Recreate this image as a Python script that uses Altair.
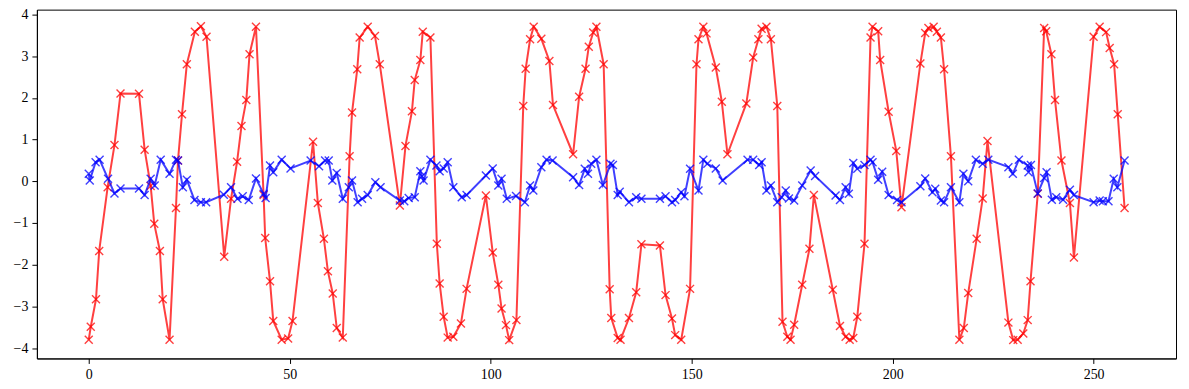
import altair as alt
import pandas as pd

red_x = [0, 0.5, 1.8, 2.6, 4.7, 6.4, 7.9, 12.5, 13.9, 15.4, 16.3, 17.7, 18.4, 20.1, 21.7, 22.2, 23.2, 24.4,
         26.4, 27.9, 29.3, 33.7, 35.4, 36.9, 38.0, 39.2, 40.0, 41.6, 43.5, 43.9, 45.1, 45.9, 48.0, 49.6, 50.7,
         55.8, 57.0, 58.5, 59.5, 60.7, 61.7, 63.2, 64.9, 65.5, 66.8, 67.4, 69.4, 71.2, 72.4, 77.4, 78.8, 80.4,
         81.1, 82.5, 83.1, 85.0, 86.6, 87.3, 88.3, 89.3, 90.7, 92.6, 94.0, 98.8, 100.5, 101.9, 102.7, 103.8,
         104.6, 106.4, 108.1, 108.7, 109.8, 110.7, 112.6, 114.6, 115.5, 120.5, 122.0, 123.6, 124.4, 125.5,
         126.3, 128.1, 129.6, 130.0, 131.6, 132.3, 134.4, 136.2, 137.5, 142.1, 143.5, 145.1, 145.9, 147.4,
         149.6, 151.2, 151.7, 152.9, 153.7, 156.0, 157.5, 158.9, 163.6, 165.3, 166.6, 167.4, 168.6, 169.7,
         171.3, 172.6, 173.8, 174.6, 175.5, 177.5, 179.3, 180.4, 185.1, 186.9, 188.3, 189.3, 190.2, 191.2,
         193.0, 194.5, 195.0, 196.4, 196.9, 199.0, 200.9, 202.2, 206.9, 208.1, 208.9, 210.2, 211.0, 212.0,
         212.8, 214.5, 216.6, 217.7, 218.8, 220.9, 222.4, 223.6, 228.8, 230.0, 231.1, 232.5, 233.6, 234.3,
         236.1, 237.7, 238.2, 239.5, 240.4, 242.0, 244.1, 245.1, 250.0, 251.5, 253.1, 254.0, 255.1, 256.0,
         257.7]
red_y = [-3.80, -3.49, -2.83, -1.67, -0.14, 0.87, 2.11, 2.10, 0.76, -0.11, -1.02, -1.67, -2.83, -3.80, -0.64,
         0.50, 1.61, 2.81, 3.59, 3.72, 3.47, -1.81, -0.42, 0.47, 1.33, 1.95, 3.05, 3.71, -0.33, -1.36, -2.40,
         -3.35, -3.80, -3.77, -3.35, 0.95, -0.52, -1.38, -2.16, -2.69, -3.52, -3.75, 0.60, 1.65, 2.69, 3.45,
         3.71, 3.49, 2.81, -0.58, 0.85, 1.68, 2.43, 2.91, 3.59, 3.45, -1.50, -2.45, -3.25, -3.75, -3.73, -3.41,
         -2.58, -0.34, -1.71, -2.48, -3.05, -3.45, -3.81, -3.33, 1.81, 2.70, 3.41, 3.71, 3.42, 2.89, 1.83, 0.65,
         2.03, 2.70, 3.23, 3.57, 3.71, 2.81, -2.59, -3.28, -3.76, -3.80, -3.28, -2.66, -1.51, -1.54, -2.73,
         -3.29, -3.69, -3.80, -2.58, 2.81, 3.41, 3.71, 3.55, 2.73, 1.91, 0.65, 1.87, 2.97, 3.41, 3.66, 3.71,
         3.41, 1.81, -3.37, -3.73, -3.80, -3.44, -2.48, -1.62, -0.33, -2.60, -3.47, -3.73, -3.80, -3.76, -3.25,
         -1.50, 3.45, 3.71, 3.60, 2.91, 1.67, 0.73, -0.62, 2.83, 3.56, 3.68, 3.71, 3.59, 3.45, 2.69, 0.60,
         -3.80, -3.52, -2.68, -1.38, -0.41, 0.97, -3.39, -3.81, -3.80, -3.65, -3.33, -2.40, -0.30, 3.68, 3.60,
         3.05, 1.95, 0.50, -0.52, -1.83, 3.47, 3.71, 3.58, 3.20, 2.81, 1.61, -0.64]

blue_x = [0, 0.25, 1.7, 2.7, 4.8, 6.4, 7.9, 12.5, 13.9, 15.4, 16.4, 17.9, 20.1, 21.7, 22.2, 23.4, 24.4, 26.3,
          27.9, 29.2, 33.6, 35.4, 37.0, 38.3, 39.8, 41.6, 43.5, 44.0, 45.1, 45.9, 48.0, 50.2, 55.2, 57.3, 58.8,
          59.7, 60.6, 61.7, 63.2, 64.7, 65.5, 66.9, 68.0, 69.4, 71.3, 72.6, 77.4, 78.5, 79.6, 81.1, 82.5, 82.9,
          83.3, 85.0, 86.5, 87.3, 88.3, 89.3, 90.7, 92.8, 94.0, 98.8, 100.5, 101.9, 102.7, 104.0, 106.3, 108.5,
          109.8, 110.6, 112.6, 113.9, 115.4, 120.5, 122.0, 123.4, 124.2, 125.0, 126.3, 127.9, 129.8, 130.4,
          131.6, 132.1, 134.4, 136.2, 137.5, 142.1, 143.5, 145.1, 145.9, 147.4, 148.2, 149.6, 151.7, 152.9,
          153.9, 156.0, 157.7, 163.9, 165.3, 166.8, 167.4, 168.6, 169.7, 171.3, 172.4, 173.4, 174.2, 175.5,
          177.5, 179.6, 180.7, 185.8, 186.9, 188.3, 189.1, 190.2, 191.2, 193.0, 194.5, 195.0, 196.4, 197.4,
          199.0, 201.1, 202.2, 206.9, 208.1, 209.9, 210.6, 212.0, 212.8, 214.5, 216.6, 217.6, 218.8, 220.7,
          222.4, 223.8, 228.8, 229.9, 231.4, 233.6, 233.8, 234.4, 236.1, 237.7, 238.3, 239.6, 240.7, 242.4,
          244.1, 245.1, 250.0, 251.5, 252.3, 253.7, 255.0, 255.9, 257.7]
blue_y = [0.18, 0.02, 0.46, 0.52, 0.06, -0.29, -0.17, -0.17, -0.33, 0.06, -0.10, 0.52, 0.18, 0.52, 0.50, -0.14,
          0.04, -0.45, -0.50, -0.50, -0.32, -0.14, -0.42, -0.36, -0.45, 0.07, -0.30, -0.40, 0.38, 0.22, 0.52,
          0.31, 0.50, 0.36, 0.50, 0.50, 0.02, 0.20, -0.42, -0.14, 0.02, -0.50, -0.42, -0.33, -0.02, -0.14,
          -0.46, -0.48, -0.40, -0.38, 0.24, 0.12, 0.02, 0.52, 0.38, 0.24, 0.31, 0.46, -0.14, -0.38, -0.33,
          0.14, 0.31, -0.10, 0.06, -0.42, -0.35, -0.50, -0.10, -0.22, 0.34, 0.52, 0.50, 0.10, -0.09, 0.30,
          0.18, 0.42, 0.52, -0.09, 0.42, 0.39, -0.33, -0.25, -0.50, -0.38, -0.42, -0.42, -0.36, -0.50, -0.45,
          -0.26, -0.36, 0.30, -0.22, 0.52, 0.42, 0.31, 0.02, 0.52, 0.52, 0.39, 0.46, -0.22, -0.10, -0.50,
          -0.38, -0.22, -0.41, -0.46, -0.10, 0.26, 0.13, -0.34, -0.45, -0.14, -0.30, 0.44, 0.30, 0.39, 0.52,
          0.46, 0.04, 0.23, -0.33, -0.45, -0.50, -0.12, 0.07, -0.26, -0.18, -0.46, -0.50, -0.14, -0.50, 0.18,
          0.00, 0.52, 0.42, 0.52, 0.34, 0.18, 0.52, 0.38, 0.22, 0.39, -0.29, 0.08, 0.22, -0.44, -0.38, -0.44,
          -0.20, -0.33, -0.50, -0.46, -0.48, -0.48, 0.06, -0.14, 0.50]

x_ticks = [0, 50, 100, 150, 200, 250]
y_ticks = [-4, -3, -2, -1, 0, 1, 2, 3, 4]

red_df = pd.DataFrame({"x": red_x, "y": red_y})
blue_df = pd.DataFrame({"x": blue_x, "y": blue_y})

FONT = "Liberation Serif"
xscale = alt.Scale(domain=[-12.9, 270.5], nice=False, zero=False)
yscale = alt.Scale(domain=[-4.25, 4.12], nice=False, zero=False)

xaxis = alt.Axis(values=x_ticks, title=None, grid=False, tickSize=5, tickColor="black",
                 domainColor="black", labelColor="black", labelFont=FONT, labelFontSize=14,
                 labelPadding=4, format="d")
yaxis = alt.Axis(values=y_ticks, title=None, grid=False, tickSize=5, tickColor="black",
                 domainColor="black", labelColor="black", labelFont=FONT, labelFontSize=14,
                 labelPadding=4, format="d")

XPATH = "M-1,-1L1,1M-1,1L1,-1"


def series(df, color):
    enc = dict(x=alt.X("x:Q", scale=xscale, axis=xaxis), y=alt.Y("y:Q", scale=yscale, axis=yaxis))
    line = alt.Chart(df).mark_line(color=color, strokeWidth=2, opacity=0.75).encode(**enc)
    pts = alt.Chart(df).mark_point(shape=XPATH, filled=False, color=color, strokeWidth=1.4,
                                   size=64, opacity=0.75).encode(**enc)
    return line + pts


chart = alt.layer(series(red_df, "#ff0000"), series(blue_df, "#0000ff")).properties(
    width=1143, height=350,
    autosize=alt.AutoSizeParams(type="none"),
    padding={"left": 29, "top": 1, "right": 5, "bottom": 28},
).configure(background="white").configure_view(stroke="black", strokeWidth=1)

chart.save("out.html", embed_options={"renderer": "svg", "actions": False})
